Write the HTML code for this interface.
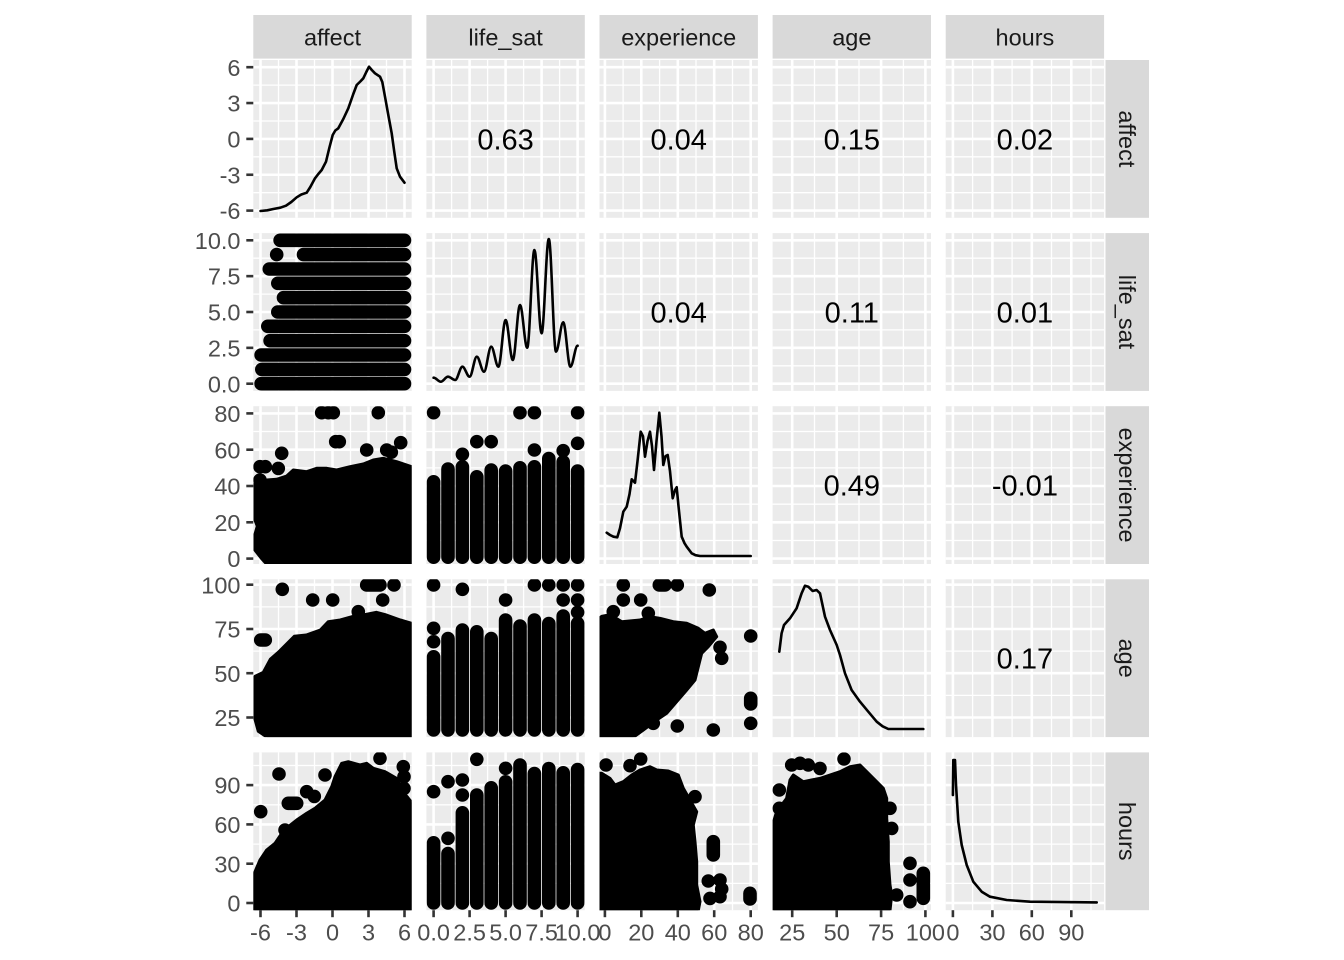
<!DOCTYPE html>
<html><head><meta charset="utf-8"><style>
html,body{margin:0;padding:0;background:#fff;}
svg{display:block;}
.ax{font-family:"Liberation Sans",Arial,sans-serif;font-size:23.5px;fill:#4D4D4D;}
.st{font-family:"Liberation Sans",Arial,sans-serif;font-size:23.5px;fill:#1A1A1A;}
.cr{font-family:"Liberation Sans",Arial,sans-serif;font-size:29px;fill:#000;}
.mj{stroke:#fff;stroke-width:2.6;}
.mn{stroke:#fff;stroke-width:1.3;}
.dn{fill:none;stroke:#000;stroke-width:2.6;stroke-linejoin:round;stroke-linecap:round;}
.bl{fill:#000;stroke:#000;stroke-width:3;stroke-linejoin:round;}
.pt{fill:none;stroke:#000;stroke-width:13.6;stroke-linecap:round;}
.tk{stroke:#333;stroke-width:2.6;}
</style></head><body>
<svg width="1344" height="960" viewBox="0 0 1344 960" xmlns="http://www.w3.org/2000/svg">
<defs>
<clipPath id="pc"><rect x="0" y="0" width="158.4" height="157.8"/></clipPath>
<g id="vA"><g class="mn"><line x1="25.2" y1="0" x2="25.2" y2="157.8"/><line x1="61.2" y1="0" x2="61.2" y2="157.8"/><line x1="97.2" y1="0" x2="97.2" y2="157.8"/><line x1="133.2" y1="0" x2="133.2" y2="157.8"/></g><g class="mj"><line x1="7.2" y1="0" x2="7.2" y2="157.8"/><line x1="43.2" y1="0" x2="43.2" y2="157.8"/><line x1="79.2" y1="0" x2="79.2" y2="157.8"/><line x1="115.2" y1="0" x2="115.2" y2="157.8"/><line x1="151.2" y1="0" x2="151.2" y2="157.8"/></g></g>
<g id="vE"><g class="mn"><line x1="23.6" y1="0" x2="23.6" y2="157.8"/><line x1="60.1" y1="0" x2="60.1" y2="157.8"/><line x1="96.5" y1="0" x2="96.5" y2="157.8"/><line x1="133" y1="0" x2="133" y2="157.8"/></g><g class="mj"><line x1="5.4" y1="0" x2="5.4" y2="157.8"/><line x1="41.8" y1="0" x2="41.8" y2="157.8"/><line x1="78.3" y1="0" x2="78.3" y2="157.8"/><line x1="114.7" y1="0" x2="114.7" y2="157.8"/><line x1="151.2" y1="0" x2="151.2" y2="157.8"/></g></g>
<g id="vG"><g class="mn"><line x1="41.9" y1="0" x2="41.9" y2="157.8"/><line x1="86.4" y1="0" x2="86.4" y2="157.8"/><line x1="130.8" y1="0" x2="130.8" y2="157.8"/></g><g class="mj"><line x1="19.6" y1="0" x2="19.6" y2="157.8"/><line x1="64.1" y1="0" x2="64.1" y2="157.8"/><line x1="108.5" y1="0" x2="108.5" y2="157.8"/><line x1="152.8" y1="0" x2="152.8" y2="157.8"/></g></g>
<g id="vH"><g class="mn"><line x1="26.9" y1="0" x2="26.9" y2="157.8"/><line x1="66.4" y1="0" x2="66.4" y2="157.8"/><line x1="105.8" y1="0" x2="105.8" y2="157.8"/><line x1="145.3" y1="0" x2="145.3" y2="157.8"/></g><g class="mj"><line x1="7.2" y1="0" x2="7.2" y2="157.8"/><line x1="46.7" y1="0" x2="46.7" y2="157.8"/><line x1="86.1" y1="0" x2="86.1" y2="157.8"/><line x1="125.6" y1="0" x2="125.6" y2="157.8"/></g></g>
<g id="hA"><g class="mn"><line x1="0" y1="25.1" x2="158.4" y2="25.1"/><line x1="0" y1="61" x2="158.4" y2="61"/><line x1="0" y1="96.8" x2="158.4" y2="96.8"/><line x1="0" y1="132.7" x2="158.4" y2="132.7"/></g><g class="mj"><line x1="0" y1="7.2" x2="158.4" y2="7.2"/><line x1="0" y1="43.05" x2="158.4" y2="43.05"/><line x1="0" y1="78.9" x2="158.4" y2="78.9"/><line x1="0" y1="114.75" x2="158.4" y2="114.75"/><line x1="0" y1="150.6" x2="158.4" y2="150.6"/></g></g>
<g id="hE"><g class="mn"><line x1="0" y1="134.3" x2="158.4" y2="134.3"/><line x1="0" y1="98" x2="158.4" y2="98"/><line x1="0" y1="61.7" x2="158.4" y2="61.7"/><line x1="0" y1="25.3" x2="158.4" y2="25.3"/></g><g class="mj"><line x1="0" y1="152.4" x2="158.4" y2="152.4"/><line x1="0" y1="116.1" x2="158.4" y2="116.1"/><line x1="0" y1="79.8" x2="158.4" y2="79.8"/><line x1="0" y1="43.5" x2="158.4" y2="43.5"/><line x1="0" y1="7.2" x2="158.4" y2="7.2"/></g></g>
<g id="hG"><g class="mn"><line x1="0" y1="116.1" x2="158.4" y2="116.1"/><line x1="0" y1="71.8" x2="158.4" y2="71.8"/><line x1="0" y1="27.6" x2="158.4" y2="27.6"/></g><g class="mj"><line x1="0" y1="138.2" x2="158.4" y2="138.2"/><line x1="0" y1="93.9" x2="158.4" y2="93.9"/><line x1="0" y1="49.7" x2="158.4" y2="49.7"/><line x1="0" y1="5.4" x2="158.4" y2="5.4"/></g></g>
<g id="hH"><g class="mn"><line x1="0" y1="131" x2="158.4" y2="131"/><line x1="0" y1="91.7" x2="158.4" y2="91.7"/><line x1="0" y1="52.4" x2="158.4" y2="52.4"/><line x1="0" y1="13.1" x2="158.4" y2="13.1"/></g><g class="mj"><line x1="0" y1="150.6" x2="158.4" y2="150.6"/><line x1="0" y1="111.3" x2="158.4" y2="111.3"/><line x1="0" y1="72" x2="158.4" y2="72"/><line x1="0" y1="32.7" x2="158.4" y2="32.7"/></g></g>
</defs>

<rect x="0" y="0" width="1344" height="960" fill="#fff"/>

<g fill="#D9D9D9">
<rect x="253.3" y="15" width="158.4" height="43.6"/>
<rect x="426.4" y="15" width="158.4" height="43.6"/>
<rect x="599.5" y="15" width="158.4" height="43.6"/>
<rect x="772.6" y="15" width="158.4" height="43.6"/>
<rect x="945.7" y="15" width="158.4" height="43.6"/>
<rect x="1105.5" y="60" width="43.5" height="157.8"/>
<rect x="1105.5" y="233.1" width="43.5" height="157.8"/>
<rect x="1105.5" y="406.2" width="43.5" height="157.8"/>
<rect x="1105.5" y="579.3" width="43.5" height="157.8"/>
<rect x="1105.5" y="752.4" width="43.5" height="157.8"/>
</g>
<g class="st" text-anchor="middle">
<text x="332.5" y="45.5">affect</text>
<text x="505.6" y="45.5">life_sat</text>
<text x="678.7" y="45.5">experience</text>
<text x="851.8" y="45.5">age</text>
<text x="1024.9" y="45.5">hours</text>
<text x="1127.2" y="147.3" transform="rotate(90 1127.2 138.9)">affect</text>
<text x="1127.2" y="320.4" transform="rotate(90 1127.2 312)">life_sat</text>
<text x="1127.2" y="493.5" transform="rotate(90 1127.2 485.1)">experience</text>
<text x="1127.2" y="666.6" transform="rotate(90 1127.2 658.2)">age</text>
<text x="1127.2" y="839.7" transform="rotate(90 1127.2 831.3)">hours</text>
</g>

<!-- ROW 0 -->
<g transform="translate(253.3,60)"><rect width="158.4" height="157.8" fill="#EBEBEB"/><use href="#vA"/><use href="#hA"/><g clip-path="url(#pc)">
<polyline class="dn" points="7.2,151 14,150.3 20,149 27,147.7 32.7,145.7 38,142 43.4,137.3 48,134.5 53.4,132.7 57,127 61.7,118.3 65,114 68.4,110 72.7,101.7 76,88 79.4,75 82,70.5 85,68.3 90,59 95,48.3 100,34 103.4,25 107,21.5 110,18.3 113,12 115.7,6.7 118.5,10 121.7,13.3 126.7,16.7 129,22 131.7,36.7 135,55 138.4,73.3 141,92 143.4,108.3 146.7,116.7 151.2,122.7"/>
</g></g>
<g transform="translate(426.4,60)"><rect width="158.4" height="157.8" fill="#EBEBEB"/><use href="#vA"/><use href="#hA"/></g>
<g transform="translate(599.5,60)"><rect width="158.4" height="157.8" fill="#EBEBEB"/><use href="#vE"/><use href="#hA"/></g>
<g transform="translate(772.6,60)"><rect width="158.4" height="157.8" fill="#EBEBEB"/><use href="#vG"/><use href="#hA"/></g>
<g transform="translate(945.7,60)"><rect width="158.4" height="157.8" fill="#EBEBEB"/><use href="#vH"/><use href="#hA"/></g>

<!-- ROW 1 -->
<g transform="translate(253.3,233.1)"><rect width="158.4" height="157.8" fill="#EBEBEB"/><use href="#vA"/><use href="#hA"/><g clip-path="url(#pc)">
<path class="pt" d="M26.8,7.2H151.2 M50.2,21.5H151.2 M16,35.9H151.2 M24.5,50.2H151.2 M30.2,64.6H151.2 M24.5,78.9H151.2 M14.5,93.2H151.2 M16.8,107.6H151.2 M7.8,121.9H151.2 M8.5,136.3H151.2 M7.8,150.6H151.2 M23.4,21.5h0"/>
</g></g>
<g transform="translate(426.4,233.1)"><rect width="158.4" height="157.8" fill="#EBEBEB"/><use href="#vA"/><use href="#hA"/><g clip-path="url(#pc)">
<path class="dn" d="M7.2,144.6 C9.8,144.6 11.8,148.6 14.4,148.6 C17,148.6 19,143.6 21.6,143.6 C24.2,143.6 26.2,146.9 28.8,146.9 C31.4,146.9 33.4,133.6 36,133.6 C38.6,133.6 40.6,143.6 43.2,143.6 C45.8,143.6 47.8,123.6 50.4,123.6 C53,123.6 55,138.6 57.6,138.6 C60.2,138.6 62.2,113.6 64.8,113.6 C67.4,113.6 69.4,133.6 72,133.6 C74.6,133.6 76.6,86.9 79.2,86.9 C81.8,86.9 83.8,126.9 86.4,126.9 C89,126.9 91,71.9 93.6,71.9 C96.2,71.9 98.2,114.6 100.8,114.6 C103.4,114.6 105.4,16.9 108,16.9 C110.6,16.9 112.6,100.2 115.2,100.2 C117.8,100.2 119.8,5.9 122.4,5.9 C125,5.9 127,118.6 129.6,118.6 C132.2,118.6 134.2,89.2 136.8,89.2 C139.4,89.2 141.4,133.6 144,133.6 C146.6,133.6 148.6,112.6 151.2,112.6"/>
</g></g>
<g transform="translate(599.5,233.1)"><rect width="158.4" height="157.8" fill="#EBEBEB"/><use href="#vE"/><use href="#hA"/></g>
<g transform="translate(772.6,233.1)"><rect width="158.4" height="157.8" fill="#EBEBEB"/><use href="#vG"/><use href="#hA"/></g>
<g transform="translate(945.7,233.1)"><rect width="158.4" height="157.8" fill="#EBEBEB"/><use href="#vH"/><use href="#hA"/></g>

<!-- ROW 2 -->
<g transform="translate(253.3,406.2)"><rect width="158.4" height="157.8" fill="#EBEBEB"/><use href="#vA"/><use href="#hE"/><g clip-path="url(#pc)">
<polygon class="bl" points="1.7,77.1 13.4,73.8 23.4,73.1 33.4,69.8 40,63.8 53.4,65.5 63.4,62.1 73.4,62.1 83.4,63.8 96.7,60.5 110,57.8 120,53.8 130,52.1 143.4,55.5 153.4,58.8 158.4,60.5 158.4,158 13.4,158 8,152 1.7,144 1.7,128 4,120 1.7,114"/>
<path class="pt" d="M68.4,6.5h0 M75,6.5h0 M80,6.5h0 M125,6.5h0 M82.4,35.5h0 M86,35.5h0 M113.4,43.8h0 M133.4,43.8h0 M138,46h0 M147.4,36.5h0 M28.4,47.1h0 M6.7,60.5h0 M12,60.5h0 M25,62.2h0 M6.7,73.8h0"/>
</g></g>
<g transform="translate(426.4,406.2)"><rect width="158.4" height="157.8" fill="#EBEBEB"/><use href="#vA"/><use href="#hE"/><g clip-path="url(#pc)">
<path class="pt" d="M7.2,75.6V151 M21.6,62.9V151 M36,60.6V151 M50.4,70.6V151 M64.8,63.9V151 M79.2,64.9V151 M93.6,61.6V151 M108,60.6V151 M122.4,52.3V151 M136.8,55.6V151 M151.2,64.9V151 M7.2,6.5h0 M36,48.1h0 M50.4,35.5h0 M64.8,35.5h0 M93.6,6.5h0 M108,6.5h0 M108,43.8h0 M136.8,44.5h0 M151.2,6.5h0 M151.2,37.1h0"/>
</g></g>
<g transform="translate(599.5,406.2)"><rect width="158.4" height="157.8" fill="#EBEBEB"/><use href="#vE"/><use href="#hE"/><g clip-path="url(#pc)">
<polyline class="dn" points="7.2,126.5 10.5,128.8 14,130.5 17.8,131.1 20.5,122.1 23.8,105.5 27.2,100.5 30,88 32.2,73.1 35.5,76.5 38,55 41.2,25.5 43.5,30 45.5,50.5 48,35 50.5,25.5 52.5,40 54.5,63.8 57,35 59.8,6.5 62,30 63.8,58.8 66,50 68.2,48.8 70.5,65 73.2,92.1 75.5,84 77.2,81.1 79,100 82.2,130.5 85,137 87.2,140.5 92.2,147.1 96,149 100.5,149.8 151.2,149.8"/>
</g></g>
<g transform="translate(772.6,406.2)"><rect width="158.4" height="157.8" fill="#EBEBEB"/><use href="#vG"/><use href="#hE"/></g>
<g transform="translate(945.7,406.2)"><rect width="158.4" height="157.8" fill="#EBEBEB"/><use href="#vH"/><use href="#hE"/></g>

<!-- ROW 3 -->
<g transform="translate(253.3,579.3)"><rect width="158.4" height="157.8" fill="#EBEBEB"/><use href="#vA"/><use href="#hG"/><g clip-path="url(#pc)">
<polygon class="bl" points="1.7,97 10,93 17,80 25,73 36,62 41,57 53,55.7 67,50.7 75,42.4 87,40.7 100,37 113,35 123,33 133,35.7 147,40.7 158.4,44 158.4,158 14,158 5,152 1.7,140"/>
<path class="pt" d="M113.4,5.7H126.7 M140.7,5.7h0 M29,10h0 M59.4,20.7h0 M79.4,20.7h0 M129.4,20.7h0 M105,32.4h0 M7.4,60.7H12"/>
</g></g>
<g transform="translate(426.4,579.3)"><rect width="158.4" height="157.8" fill="#EBEBEB"/><use href="#vA"/><use href="#hG"/><g clip-path="url(#pc)">
<path class="pt" d="M7.2,77.5V150.6 M21.6,59.2V150.6 M36,50.8V150.6 M50.4,52.5V150.6 M64.8,59.2V150.6 M79.2,40.8V150.6 M93.6,46.8V150.6 M108,40.8V150.6 M122.4,44.2V150.6 M136.8,36.8V150.6 M151.2,44V150.6 M7.2,5.7h0 M7.2,49h0 M7.2,62.4h0 M36,10h0 M79.2,20.7h0 M108,5.7h0 M122.4,5.7h0 M136.8,5.7h0 M136.8,20.7h0 M151.2,5.7h0 M151.2,20.7h0 M151.2,33h0"/>
</g></g>
<g transform="translate(599.5,579.3)"><rect width="158.4" height="157.8" fill="#EBEBEB"/><use href="#vE"/><use href="#hG"/><g clip-path="url(#pc)">
<polygon class="bl" points="0,39 2.2,37 10.5,35.4 22.2,42.4 40.5,40.7 50.5,37.4 60.5,39 73.8,42.4 87.2,44 98.8,49 105.5,54 113.8,50.7 117.2,57.4 108.8,67.4 102.2,74 98.8,87.4 95.5,100.7 87.2,110.7 77.2,122.4 67.2,134 57.2,140.7 43.8,150.7 33.8,158 0,158"/>
<path class="pt" d="M23.8,5.7h0 M59.8,5.7H65.5 M77.8,5.7h0 M109.8,10.7h0 M23.8,20.7h0 M41.2,20.7h0 M13.8,32.4h0 M48.8,34h0 M151.2,56.7h0 M120.5,68h0 M122.2,79h0 M151.2,119V124.7 M151.2,144h0 M77.8,146.7h0 M113.8,150.7h0 M53.8,144h0"/>
</g></g>
<g transform="translate(772.6,579.3)"><rect width="158.4" height="157.8" fill="#EBEBEB"/><use href="#vG"/><use href="#hG"/><g clip-path="url(#pc)">
<polyline class="dn" points="6.7,72.4 9,54 11.4,45.7 17.4,39 24,29 29,14 32.4,6.4 35.7,7.4 40,11.7 44,10.7 47.4,14 52.4,37.4 57.4,50.7 64.1,65.7 67.4,75.7 72.4,94 79,110.7 87.4,122.4 95.7,132.4 104.1,142.4 110,147 115.7,149.7 150.7,149.7"/>
</g></g>
<g transform="translate(945.7,579.3)"><rect width="158.4" height="157.8" fill="#EBEBEB"/><use href="#vH"/><use href="#hG"/></g>

<!-- ROW 4 -->
<g transform="translate(253.3,752.4)"><rect width="158.4" height="157.8" fill="#EBEBEB"/><use href="#vA"/><use href="#hH"/><g clip-path="url(#pc)">
<polygon class="bl" points="1,121 6.7,107.6 13.4,97.6 21.7,90.9 28.4,80.9 35,74.3 43.4,67.6 53.4,60.9 61.7,55.9 71.7,47.6 78.4,34.3 81.7,24.3 88.4,10.9 95,9.3 106.7,12.6 113.4,10.9 120,15.9 131.7,19.3 143.4,26 150,40 158.4,50 158.4,158 1,158"/>
<path class="pt" d="M7.4,59.3h0 M25.7,21.6h0 M35,50.9H43.4 M31.7,77.6h0 M53.4,39.3h0 M61,44h0 M71.7,22.6h0 M126.7,5.9h0 M150,14.3h0 M150.7,24.3h0 M150.7,36h0 M150,48h0"/>
</g></g>
<g transform="translate(426.4,752.4)"><rect width="158.4" height="157.8" fill="#EBEBEB"/><use href="#vA"/><use href="#hH"/><g clip-path="url(#pc)">
<path class="pt" d="M7.2,90.4V150.6 M21.6,101.1V150.6 M36,60.4V150.6 M50.4,42.7V150.6 M64.8,35.4V150.6 M79.2,29.4V150.6 M93.6,12.7V150.6 M108,21.1V150.6 M122.4,16.1V150.6 M136.8,20.4V150.6 M151.2,17.1V150.6 M7.2,39.3h0 M21.6,29.3h0 M21.6,85.9h0 M36,27.6h0 M36,42.6h0 M50.4,6.9h0 M79.2,15.9h0"/>
</g></g>
<g transform="translate(599.5,752.4)"><rect width="158.4" height="157.8" fill="#EBEBEB"/><use href="#vE"/><use href="#hH"/><g clip-path="url(#pc)">
<polygon class="bl" points="0,20.9 2.2,20.9 10.5,26 15.5,32.6 23.8,29.3 32.2,22.6 40.5,17.6 50.5,14.3 57.2,17.6 68.8,18.6 78.8,22.6 83.8,35.9 90.5,47.6 97.2,59.3 93.8,72.6 95.5,89.3 97.2,109.3 97.2,132.6 100.5,149.3 98.8,158 0,158"/>
<path class="pt" d="M6.5,12.6h0 M30.5,13.3h0 M41.2,6.6h0 M95.5,44.3h0 M113.8,89.3V102.6 M108.8,128.6h0 M120.5,127.6h0 M122.2,136.6h0 M120.5,144.3h0 M150.5,140.9V146.6 M110.5,146h0"/>
</g></g>
<g transform="translate(772.6,752.4)"><rect width="158.4" height="157.8" fill="#EBEBEB"/><use href="#vG"/><use href="#hH"/><g clip-path="url(#pc)">
<polygon class="bl" points="1,69.3 4,59.3 14,46 17.4,27.6 20.7,22.6 30.7,29.3 39,27.6 47.4,26 57.4,22.6 67.4,19.3 77.4,14.3 87.4,12.6 94.1,19.3 104.1,29.3 110.7,35.9 114.1,46 114.1,66 115.7,89.3 115.7,109.3 117.4,132.6 119.1,142.6 117.4,158 1,158"/>
<path class="pt" d="M71.4,6.6h0 M6.7,37.6h0 M6.7,55.9h0 M19.1,12.6h0 M27.4,10.9h0 M35.7,12.6h0 M47.4,16h0 M117.4,55.9h0 M119.1,76h0 M137.4,110.9h0 M137.4,127.6h0 M150.7,120.9V145.9 M137.4,149.3h0 M124.1,142.6h0"/>
</g></g>
<g transform="translate(945.7,752.4)"><rect width="158.4" height="157.8" fill="#EBEBEB"/><use href="#vH"/><use href="#hH"/><g clip-path="url(#pc)">
<polyline class="dn" points="7.2,42.6 7.6,7.6 9.3,7.6 10.3,32.6 12.6,69.3 16,92.6 21,112.6 27.6,129.3 36,139.3 44.3,144.3 61,147.6 84.3,149.3 151,150"/>
</g></g>

<g class="cr" text-anchor="middle">
<text x="505.6" y="149.3">0.63</text>
<text x="678.7" y="149.3">0.04</text>
<text x="851.8" y="149.3">0.15</text>
<text x="1024.9" y="149.3">0.02</text>
<text x="678.7" y="322.4">0.04</text>
<text x="851.8" y="322.4">0.11</text>
<text x="1024.9" y="322.4">0.01</text>
<text x="851.8" y="495.5">0.49</text>
<text x="1024.9" y="495.5">-0.01</text>
<text x="1024.9" y="668.6">0.17</text>
</g>

<g class="tk">
<line x1="246.3" y1="67.2" x2="253.3" y2="67.2"/><line x1="246.3" y1="103.05" x2="253.3" y2="103.05"/><line x1="246.3" y1="138.9" x2="253.3" y2="138.9"/><line x1="246.3" y1="174.75" x2="253.3" y2="174.75"/><line x1="246.3" y1="210.6" x2="253.3" y2="210.6"/>
<line x1="246.3" y1="240.3" x2="253.3" y2="240.3"/><line x1="246.3" y1="276.15" x2="253.3" y2="276.15"/><line x1="246.3" y1="312" x2="253.3" y2="312"/><line x1="246.3" y1="347.85" x2="253.3" y2="347.85"/><line x1="246.3" y1="383.7" x2="253.3" y2="383.7"/>
<line x1="246.3" y1="413.4" x2="253.3" y2="413.4"/><line x1="246.3" y1="449.7" x2="253.3" y2="449.7"/><line x1="246.3" y1="486" x2="253.3" y2="486"/><line x1="246.3" y1="522.3" x2="253.3" y2="522.3"/><line x1="246.3" y1="558.6" x2="253.3" y2="558.6"/>
<line x1="246.3" y1="584.7" x2="253.3" y2="584.7"/><line x1="246.3" y1="629" x2="253.3" y2="629"/><line x1="246.3" y1="673.2" x2="253.3" y2="673.2"/><line x1="246.3" y1="717.5" x2="253.3" y2="717.5"/>
<line x1="246.3" y1="785.1" x2="253.3" y2="785.1"/><line x1="246.3" y1="824.4" x2="253.3" y2="824.4"/><line x1="246.3" y1="863.7" x2="253.3" y2="863.7"/><line x1="246.3" y1="903" x2="253.3" y2="903"/>
<line x1="260.5" y1="910.2" x2="260.5" y2="917.2"/><line x1="296.5" y1="910.2" x2="296.5" y2="917.2"/><line x1="332.5" y1="910.2" x2="332.5" y2="917.2"/><line x1="368.5" y1="910.2" x2="368.5" y2="917.2"/><line x1="404.5" y1="910.2" x2="404.5" y2="917.2"/>
<line x1="433.6" y1="910.2" x2="433.6" y2="917.2"/><line x1="469.6" y1="910.2" x2="469.6" y2="917.2"/><line x1="505.6" y1="910.2" x2="505.6" y2="917.2"/><line x1="541.6" y1="910.2" x2="541.6" y2="917.2"/><line x1="577.6" y1="910.2" x2="577.6" y2="917.2"/>
<line x1="604.9" y1="910.2" x2="604.9" y2="917.2"/><line x1="641.3" y1="910.2" x2="641.3" y2="917.2"/><line x1="677.8" y1="910.2" x2="677.8" y2="917.2"/><line x1="714.2" y1="910.2" x2="714.2" y2="917.2"/><line x1="750.7" y1="910.2" x2="750.7" y2="917.2"/>
<line x1="792.2" y1="910.2" x2="792.2" y2="917.2"/><line x1="836.7" y1="910.2" x2="836.7" y2="917.2"/><line x1="881.1" y1="910.2" x2="881.1" y2="917.2"/><line x1="925.4" y1="910.2" x2="925.4" y2="917.2"/>
<line x1="952.9" y1="910.2" x2="952.9" y2="917.2"/><line x1="992.4" y1="910.2" x2="992.4" y2="917.2"/><line x1="1031.8" y1="910.2" x2="1031.8" y2="917.2"/><line x1="1071.3" y1="910.2" x2="1071.3" y2="917.2"/>
</g>

<g class="ax" text-anchor="end">
<text x="240.5" y="75.8">6</text><text x="240.5" y="111.6">3</text><text x="240.5" y="147.5">0</text><text x="240.5" y="183.3">-3</text><text x="240.5" y="219.2">-6</text>
<text x="240.5" y="248.9">10.0</text><text x="240.5" y="284.7">7.5</text><text x="240.5" y="320.6">5.0</text><text x="240.5" y="356.4">2.5</text><text x="240.5" y="392.3">0.0</text>
<text x="240.5" y="422">80</text><text x="240.5" y="458.3">60</text><text x="240.5" y="494.6">40</text><text x="240.5" y="530.9">20</text><text x="240.5" y="567.2">0</text>
<text x="240.5" y="593.3">100</text><text x="240.5" y="637.6">75</text><text x="240.5" y="681.8">50</text><text x="240.5" y="726.1">25</text>
<text x="240.5" y="793.7">90</text><text x="240.5" y="833">60</text><text x="240.5" y="872.3">30</text><text x="240.5" y="911.6">0</text>
</g>

<g class="ax" text-anchor="middle">
<text x="260.5" y="940.5">-6</text><text x="296.5" y="940.5">-3</text><text x="332.5" y="940.5">0</text><text x="368.5" y="940.5">3</text><text x="404.5" y="940.5">6</text>
<text x="433.6" y="940.5">0.0</text><text x="469.6" y="940.5">2.5</text><text x="505.6" y="940.5">5.0</text><text x="541.6" y="940.5">7.5</text><text x="577.6" y="940.5">10.0</text>
<text x="604.9" y="940.5">0</text><text x="641.3" y="940.5">20</text><text x="677.8" y="940.5">40</text><text x="714.2" y="940.5">60</text><text x="750.7" y="940.5">80</text>
<text x="792.2" y="940.5">25</text><text x="836.7" y="940.5">50</text><text x="881.1" y="940.5">75</text><text x="925.4" y="940.5">100</text>
<text x="952.9" y="940.5">0</text><text x="992.4" y="940.5">30</text><text x="1031.8" y="940.5">60</text><text x="1071.3" y="940.5">90</text>
</g>
</svg>
</body></html>
